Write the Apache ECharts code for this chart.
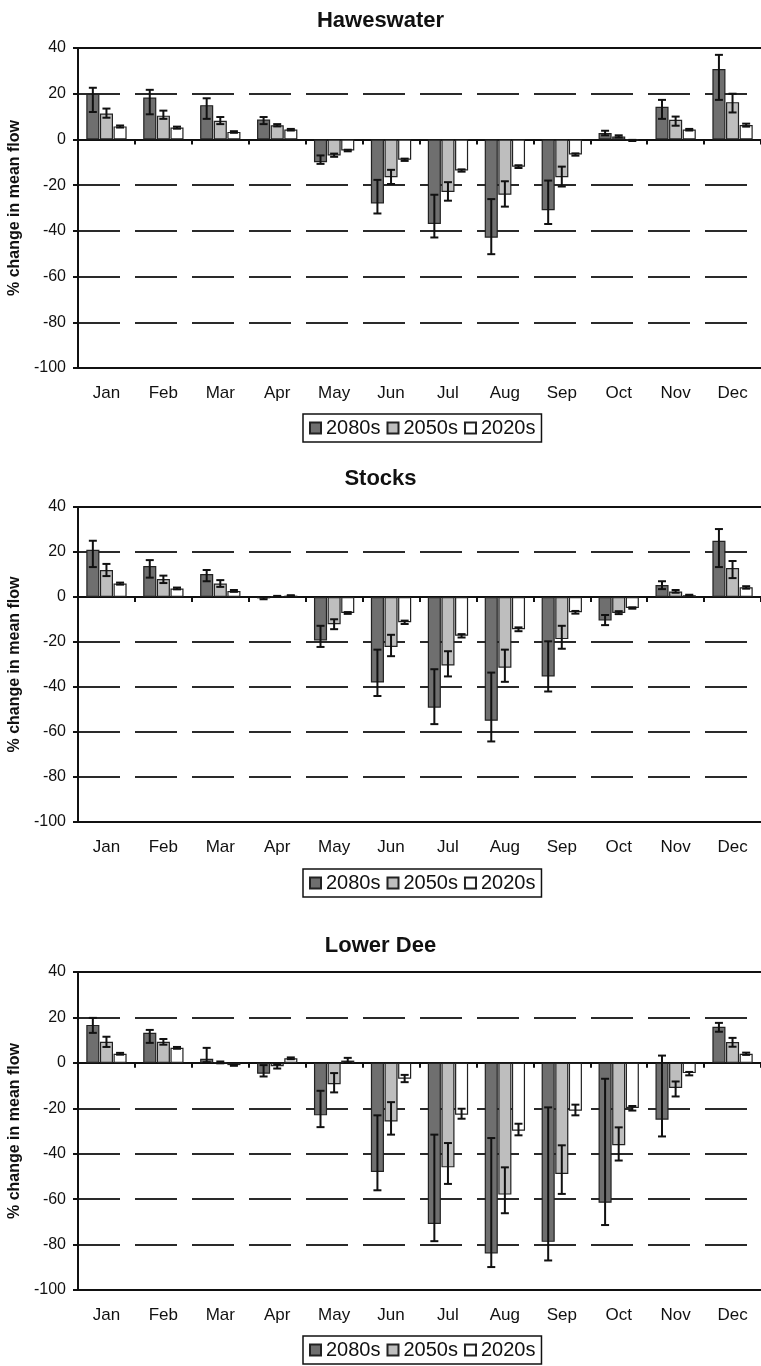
<!DOCTYPE html>
<html>
<head>
<meta charset="utf-8">
<script src="https://cdn.jsdelivr.net/npm/echarts@6/dist/echarts.min.js"></script>
<style>
  html, body { margin: 0; padding: 0; background: #fff; }
  #chart { width: 761px; height: 1366px; }
</style>
</head>
<body>
<div id="chart"></div>
<script>
// categories / ticks
const months = ['Jan', 'Feb', 'Mar', 'Apr', 'May', 'Jun', 'Jul', 'Aug', 'Sep', 'Oct', 'Nov', 'Dec'];
const periods = ['2080s', '2050s', '2020s'];
const yTicks = [-100, -80, -60, -40, -20, 0, 20, 40];
const titles = ['Haweswater', 'Stocks', 'Lower Dee'];

// Haweswater
const haw2080 = [20, 18.3, 15, 8.7, -10, -28, -37, -43, -31, 2.8, 14.3, 30.8];
const haw2080Lo = [12, 11, 9, 6.7, -10.7, -32.4, -42.9, -50.2, -37, 1.8, 9, 17.3];
const haw2080Hi = [22.6, 21.7, 18, 9.8, -7, -17.7, -24.2, -26.1, -18, 3.8, 17.3, 37];
const haw2050 = [11.3, 10.4, 8.2, 6.2, -7, -16.5, -23, -24.2, -16.5, 1.3, 8.6, 16.3];
const haw2050Lo = [9.5, 9, 6.7, 5.7, -7.6, -19.5, -26.8, -29.4, -20.6, 0.9, 6, 11.8];
const haw2050Hi = [13.5, 12.6, 9.8, 6.7, -6.2, -13.3, -18.7, -18.3, -11.9, 1.8, 10, 20];
const haw2020 = [5.7, 5.2, 3.3, 4.3, -4.8, -8.9, -13.6, -11.9, -6.6, -0.4, 4.3, 6.3];
const haw2020Lo = [5.2, 4.7, 2.9, 3.9, -5.2, -9.4, -14.1, -12.5, -7.1, -0.7, 3.9, 5.6];
const haw2020Hi = [6.1, 5.6, 3.6, 4.6, -4.5, -8.4, -13.1, -11.3, -6.1, -0.2, 4.6, 6.9];

// Stocks
const sto2080 = [21, 13.8, 10.2, -0.6, -19.3, -38, -49.2, -55, -35.3, -10.5, 5.3, 25];
const sto2080Lo = [13.3, 8.6, 7, -1, -22.2, -44, -56.5, -64.2, -42, -12.5, 3.5, 13.3];
const sto2080Hi = [25, 16.4, 12, -0.2, -12.8, -23.4, -32.1, -33.6, -19.7, -8, 7, 30.2];
const sto2050 = [12, 8, 6, 0.3, -12.1, -22.2, -30.4, -31.4, -18.7, -7.1, 2.4, 12.9];
const sto2050Lo = [9.3, 6.2, 4.5, 0.1, -14.3, -26.3, -35.3, -37.7, -23, -7.6, 1.9, 8.4];
const sto2050Hi = [14.7, 9.5, 7.5, 0.5, -9.9, -16.8, -24.1, -23.4, -12.8, -6.3, 3.1, 16];
const sto2020 = [6, 3.8, 2.7, 0.6, -7.1, -11.2, -17.2, -14.3, -6.8, -4.9, 0.8, 4.3];
const sto2020Lo = [5.5, 3.4, 2.3, 0.4, -7.5, -12, -18, -15.2, -7.4, -5.2, 0.6, 3.7];
const sto2020Hi = [6.4, 4.2, 3.1, 0.8, -6.7, -10.5, -16.5, -13.5, -6.2, -4.6, 1, 4.8];

// Lower Dee
const dee2080 = [16.7, 13.2, 1.8, -4.8, -23.1, -48, -70.9, -83.9, -78.8, -61.6, -25, 15.9];
const dee2080Lo = [13.2, 8.8, 0.3, -6, -28.3, -56.1, -78.5, -89.9, -87, -71.4, -32.4, 13.7];
const dee2080Hi = [19.8, 14.5, 6.6, -1, -12.3, -23.1, -31.6, -33.1, -19.6, -7, 3.2, 17.6];
const dee2050 = [9.3, 9.3, 0.2, -1.5, -9.4, -25.8, -46, -58, -48.9, -36.3, -11.1, 9.2];
const dee2050Lo = [7, 8, -0.2, -2.5, -13, -31.6, -53.3, -66.2, -57.7, -43, -14.8, 7.1];
const dee2050Hi = [11.5, 10.5, 0.6, -0.5, -4.5, -17.3, -35.3, -46, -36.3, -28.4, -8.2, 11];
const dee2020 = [4, 6.6, -1, 2, 1, -7, -22.8, -29.9, -21.1, -19.9, -4.5, 4];
const dee2020Lo = [3.6, 6.2, -1.3, 1.6, 0, -8.5, -24.6, -31.9, -23.1, -21, -5.5, 3.5];
const dee2020Hi = [4.4, 7, -0.7, 2.4, 2.2, -5.3, -20.2, -26.8, -18.4, -19, -4, 4.5];

const panels = [
  {mean: [haw2080, haw2050, haw2020], lo: [haw2080Lo, haw2050Lo, haw2020Lo], hi: [haw2080Hi, haw2050Hi, haw2020Hi]},
  {mean: [sto2080, sto2050, sto2020], lo: [sto2080Lo, sto2050Lo, sto2020Lo], hi: [sto2080Hi, sto2050Hi, sto2020Hi]},
  {mean: [dee2080, dee2050, dee2020], lo: [dee2080Lo, dee2050Lo, dee2020Lo], hi: [dee2080Hi, dee2050Hi, dee2020Hi]}
];

// layout of the three panels
const gridTops = [48, 507, 972];
const gridHeights = [320, 315, 318];
const titleTops = [5, 463, 930];
const legendTops = [414, 869, 1336];

const FONT = '"Liberation Sans", Arial, sans-serif';
const colors = ['#6f6f6f', '#bebebe', '#ffffff'];
const BAR_W = 0.23;
const BAR_GAP = 0.04;

function errRender(idx) {
  return function (params, api) {
    let x = api.value(0);
    let lo = api.coord([x, api.value(1)]);
    let hi = api.coord([x, api.value(2)]);
    let w = api.size([1, 0])[0];
    let cx = lo[0] + (idx - 1) * w * BAR_W * (1 + BAR_GAP);
    let cap = 4;
    let st = {stroke: '#111', lineWidth: 2};
    return {
      type: 'group',
      children: [
        {type: 'line', shape: {x1: cx, y1: lo[1], x2: cx, y2: hi[1]}, style: st},
        {type: 'line', shape: {x1: cx - cap, y1: lo[1], x2: cx + cap, y2: lo[1]}, style: st},
        {type: 'line', shape: {x1: cx - cap, y1: hi[1], x2: cx + cap, y2: hi[1]}, style: st}
      ]
    };
  };
}

let option = {
  animation: false,
  backgroundColor: '#fff',
  textStyle: {fontFamily: FONT},
  title: [], grid: [], xAxis: [], yAxis: [], legend: [], series: []
};

panels.forEach((p, g) => {
  option.title.push({
    text: titles[g], left: 'center', top: titleTops[g],
    textStyle: {fontFamily: FONT, fontSize: 22, fontWeight: 'bold', color: '#111'}
  });
  option.grid.push({
    left: 78, right: 0, top: gridTops[g], height: gridHeights[g],
    containLabel: false, outerBoundsMode: 'none'
  });
  // bottom axis with the labels
  option.xAxis.push({
    type: 'category', gridIndex: g, data: months, position: 'bottom',
    axisLine: {onZero: false, lineStyle: {color: '#111', width: 2}},
    axisTick: {show: false},
    axisLabel: {fontFamily: FONT, fontSize: 17, color: '#111', margin: 17}
  });
  // axis drawn on the zero line, ticks only
  option.xAxis.push({
    type: 'category', gridIndex: g, data: months, position: 'top',
    axisLine: {onZero: true, lineStyle: {color: '#111', width: 2}},
    axisTick: {show: true, inside: true, length: 5, lineStyle: {color: '#111', width: 2}},
    axisLabel: {show: false}
  });
  option.yAxis.push({
    type: 'value', gridIndex: g, min: yTicks[0], max: yTicks[yTicks.length - 1], interval: 20,
    name: '% change in mean flow', nameLocation: 'middle', nameGap: 54,
    nameTextStyle: {fontFamily: FONT, fontSize: 16, fontWeight: 'bold', color: '#111'},
    axisLine: {show: true, lineStyle: {color: '#111', width: 2}},
    axisTick: {show: true, length: 5, lineStyle: {color: '#111', width: 2}},
    axisLabel: {fontFamily: FONT, fontSize: 16, color: '#111', margin: 12},
    splitLine: {show: true, lineStyle: {color: '#2a2a2a', width: 2.2, type: [42, 15], dashOffset: 0}}
  });
  option.legend.push({
    data: periods, top: legendTops[g], left: 303,
    icon: 'rect', itemWidth: 11, itemHeight: 11, itemGap: 6,
    padding: [4, 6], borderColor: '#111', borderWidth: 1.5,
    textStyle: {fontFamily: FONT, fontSize: 20, color: '#111'}
  });
  periods.forEach((name, i) => {
    let s = {
      name: name, type: 'bar', xAxisIndex: g * 2, yAxisIndex: g,
      data: p.mean[i], barWidth: (BAR_W * 100) + '%', barGap: (BAR_GAP * 100) + '%',
      itemStyle: {color: colors[i], borderColor: '#222', borderWidth: 1.2}
    };
    if (i === 0) {
      s.markLine = {
        silent: true, symbol: 'none', label: {show: false},
        lineStyle: {color: '#111', width: 2, type: 'solid'},
        data: [{yAxis: 40}]
      };
    }
    option.series.push(s);
  });
  periods.forEach((name, i) => {
    option.series.push({
      name: 'err ' + name, type: 'custom', xAxisIndex: g * 2, yAxisIndex: g,
      renderItem: errRender(i), z: 5,
      data: months.map((m, k) => [k, p.lo[i][k], p.hi[i][k]])
    });
  });
});

let myChart = echarts.init(document.getElementById('chart'));
myChart.setOption(option);
</script>
</body>
</html>
